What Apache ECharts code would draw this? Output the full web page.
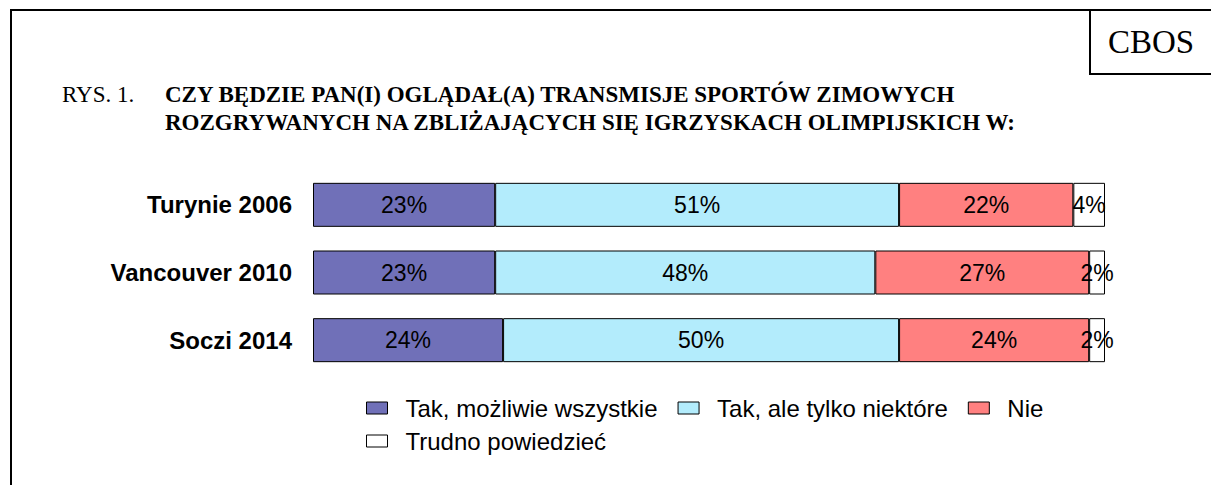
<!DOCTYPE html>
<html>
<head>
<meta charset="utf-8">
<script src="https://cdn.jsdelivr.net/npm/echarts@6/dist/echarts.min.js"></script>
<style>
html,body{margin:0;padding:0;background:#fff;}
#chart{width:1211px;height:485px;}
</style>
</head>
<body>
<div id="chart"></div>
<script>
const categories = ['Turynie 2006', 'Vancouver 2010', 'Soczi 2014'];
const seriesNames = ['Tak, możliwie wszystkie', 'Tak, ale tylko niektóre', 'Nie', 'Trudno powiedzieć'];
const takWszystkie = [23, 23, 24];
const takNiektore = [51, 48, 50];
const nie = [22, 27, 24];
const trudno = [4, 2, 2];
const titleLabel = 'RYS. 1.';
const titleText = 'CZY BĘDZIE PAN(I) OGLĄDAŁ(A) TRANSMISJE SPORTÓW ZIMOWYCH\nROZGRYWANYCH NA ZBLIŻAJĄCYCH SIĘ IGRZYSKACH OLIMPIJSKICH W:';
const sourceText = 'CBOS';

const colors = ['#7070B8', '#B3ECFC', '#FF8080', '#FFFFFF'];
const values = [takWszystkie, takNiektore, nie, trudno];

const chart = echarts.init(document.getElementById('chart'), null, {renderer: 'svg'});

const series = seriesNames.map((name, i) => ({
  name: name,
  type: 'bar',
  stack: 'total',
  barWidth: 44,
  data: values[i],
  itemStyle: {color: colors[i], borderColor: '#000', borderWidth: 1},
  label: {
    show: true,
    position: 'inside',
    formatter: '{c}%',
    color: '#000',
    fontFamily: 'Liberation Sans, Arial, sans-serif',
    fontSize: 23
  },
  emphasis: {disabled: true}
}));

const legendText = {color: '#000', fontFamily: 'Liberation Sans, Arial, sans-serif', fontSize: 24, padding: [0, 0, 0, 13]};
const legendBase = {
  orient: 'horizontal',
  icon: 'rect',
  itemWidth: 21,
  itemHeight: 12,
  itemGap: 20,
  padding: 0,
  textStyle: legendText,
  itemStyle: {borderColor: '#000', borderWidth: 1},
  selectedMode: false
};

chart.setOption({
  animation: false,
  backgroundColor: '#fff',
  title: [
    {text: titleLabel, left: 62, top: 80, padding: 0,
     textStyle: {fontFamily: 'Liberation Serif, Times New Roman, serif', fontWeight: 'normal', fontSize: 23, lineHeight: 28, color: '#000'}},
    {text: titleText, left: 165, top: 80, padding: 0,
     textStyle: {fontFamily: 'Liberation Serif, Times New Roman, serif', fontWeight: 'bold', fontSize: 23, lineHeight: 28, color: '#000'}},
    {text: sourceText, left: 1151, top: 25, textAlign: 'center', padding: 0,
     textStyle: {fontFamily: 'Liberation Serif, Times New Roman, serif', fontWeight: 'normal', fontSize: 33, color: '#000'}}
  ],
  graphic: [
    {type: 'line', shape: {x1: 11, y1: 10, x2: 1211, y2: 10}, style: {stroke: '#000', lineWidth: 2}},
    {type: 'line', shape: {x1: 11, y1: 9, x2: 11, y2: 485}, style: {stroke: '#000', lineWidth: 2}},
    {type: 'line', shape: {x1: 1090, y1: 10, x2: 1090, y2: 74}, style: {stroke: '#000', lineWidth: 2}},
    {type: 'line', shape: {x1: 1089, y1: 74, x2: 1211, y2: 74}, style: {stroke: '#000', lineWidth: 2}}
  ],
  legend: [
    Object.assign({}, legendBase, {left: 366, top: 396, data: seriesNames.slice(0, 3)}),
    Object.assign({}, legendBase, {left: 366, top: 429, data: seriesNames.slice(3)})
  ],
  grid: {left: 313, right: 106, top: 171, bottom: 111, containLabel: false},
  xAxis: {
    type: 'value', min: 0, max: 100, show: false
  },
  yAxis: {
    type: 'category',
    data: categories,
    inverse: true,
    axisLine: {show: false},
    axisTick: {show: false},
    axisLabel: {
      margin: 21,
      color: '#000',
      fontFamily: 'Liberation Sans, Arial, sans-serif',
      fontWeight: 'bold',
      fontSize: 24
    }
  },
  series: series
});
</script>
</body>
</html>
